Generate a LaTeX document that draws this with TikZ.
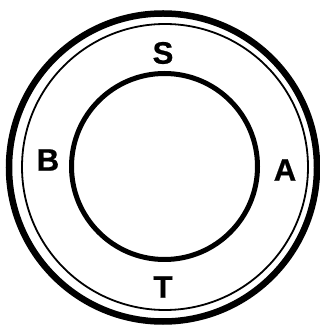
\documentclass[tikz,border=0pt]{standalone}
\usepackage{fontspec}
\setmainfont{Liberation Sans}
\newfontfamily\heavyfont{Liberation Sans}[BoldFeatures={FakeBold=0.7}]
\usepackage{tikz}
\usetikzlibrary{positioning}

\tikzset{letter/.style={font=\heavyfont\bfseries\Huge,inner sep=0pt,scale=1.25,transform shape}}

\begin{document}
\begin{tikzpicture}[x=1pt,y=1pt]
\useasboundingbox (0,0) rectangle (320,326);
\coordinate (o) at (163,158.5);
\coordinate (m) at (165,159);
\coordinate (c) at (164.5,159.5);
\draw[line width=6.5pt] (o) circle (154);
\draw[line width=1.8pt] (m) circle (143);
\draw[line width=5pt] (c) circle (93);
\node[letter] (s) at (163,273) {S};
\node[letter] (b) at (48,166) {B};
\node[letter] (a) at (285,156) {A};
\node[letter] (t) at (163,39) {T};
\end{tikzpicture}
\end{document}
